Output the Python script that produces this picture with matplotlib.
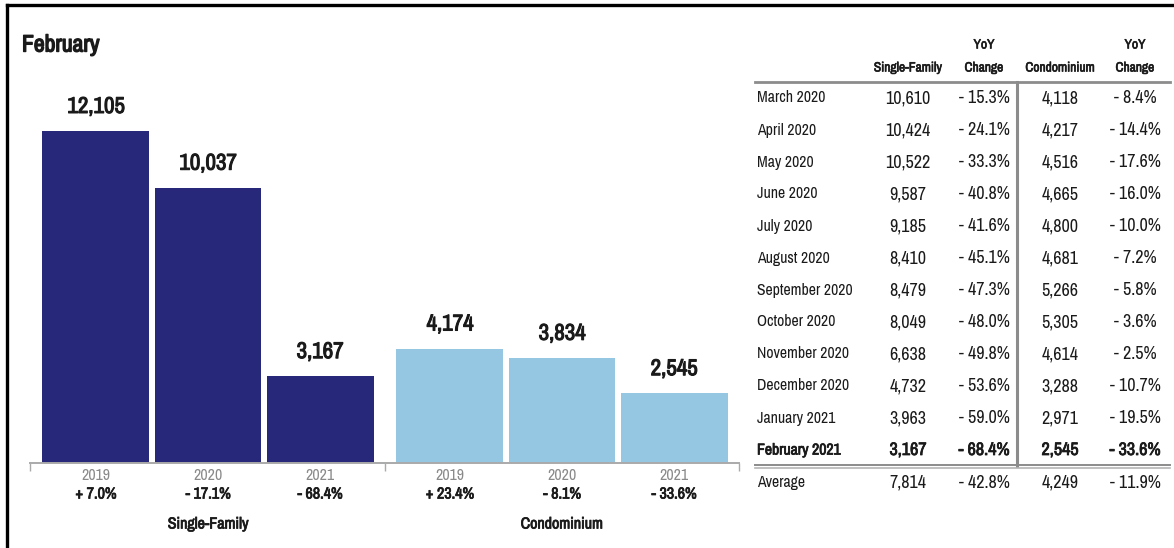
import matplotlib
matplotlib.use("Agg")
import matplotlib.pyplot as plt
import matplotlib.patheffects as pe
from matplotlib import font_manager

# ---------------- DATA ----------------------------------------
groups = ["Single-Family", "Condominium"]
years = ["2019", "2020", "2021"]
sf_sales = [12105, 10037, 3167]
condo_sales = [4174, 3834, 2545]
sf_yoy = ["+ 7.0%", "- 17.1%", "- 68.4%"]
condo_yoy = ["+ 23.4%", "- 8.1%", "- 33.6%"]

months = ["March 2020", "April 2020", "May 2020", "June 2020", "July 2020",
          "August 2020", "September 2020", "October 2020", "November 2020",
          "December 2020", "January 2021", "February 2021"]
tab_sf = ["10,610", "10,424", "10,522", "9,587", "9,185", "8,410", "8,479",
          "8,049", "6,638", "4,732", "3,963", "3,167"]
tab_sf_yoy = ["- 15.3%", "- 24.1%", "- 33.3%", "- 40.8%", "- 41.6%", "- 45.1%",
              "- 47.3%", "- 48.0%", "- 49.8%", "- 53.6%", "- 59.0%", "- 68.4%"]
tab_condo = ["4,118", "4,217", "4,516", "4,665", "4,800", "4,681", "5,266",
             "5,305", "4,614", "3,288", "2,971", "2,545"]
tab_condo_yoy = ["- 8.4%", "- 14.4%", "- 17.6%", "- 16.0%", "- 10.0%", "- 7.2%",
                 "- 5.8%", "- 3.6%", "- 2.5%", "- 10.7%", "- 19.5%", "- 33.6%"]
avg_row = ["Average", "7,814", "- 42.8%", "4,249", "- 11.9%"]

# ---------------- FONT PICK -----------------------------------
names = {f.name for f in font_manager.fontManager.ttflist}
FAKE_BOLD = False
if "Archivo Narrow" in names:
    FONT = dict(family="Archivo Narrow")
    FAKE_BOLD = True          # only a regular face is installed
elif "Asap Condensed" in names:
    FONT = dict(family="Asap Condensed")
else:
    FONT = dict(family="DejaVu Sans", stretch="condensed")

NAVY = "#27287a"
LIGHT = "#95c6e2"
GRID = "#8c8c8c"
TXT = "#1a1a1a"


def bold(stroke):
    # real bold, or a thin same-colour stroke round the regular face
    if FAKE_BOLD:
        return dict(path_effects=[pe.withStroke(linewidth=stroke, foreground=TXT)])
    return dict(weight="bold")


W, H = 1174, 548
fig = plt.figure(figsize=(W / 100, H / 100), dpi=100)

# ---------------- BARS ----------------------------------------
px = 0.72  # points per pixel at dpi 100
ax = fig.add_axes([30 / W, (H - 463) / H, (739 - 30) / W, 384 / H])
group_step = 3.16
colours = [NAVY, LIGHT]
all_vals = [sf_sales, condo_sales]
all_yoy = [sf_yoy, condo_yoy]

for g, (vals, yoy) in enumerate(zip(all_vals, all_yoy)):
    xs = [g * group_step + i for i in range(len(vals))]
    ax.bar(xs, vals, width=0.955, color=colours[g], edgecolor="none")
    for x, v, yr, ch in zip(xs, vals, years, yoy):
        ax.annotate(f"{v:,}", (x, v), xytext=(0, 24 * px), textcoords="offset points",
                    ha="center", va="center", fontsize=16.5, color=TXT, **FONT, **bold(0.75))
        ax.annotate(yr, (x, 0), xytext=(0, -13 * px), textcoords="offset points",
                    ha="center", va="center", fontsize=11.5, color="#8a8a8a", **FONT)
        ax.annotate(ch, (x, 0), xytext=(0, -31 * px), textcoords="offset points",
                    ha="center", va="center", fontsize=11.5, color=TXT, **FONT, **bold(0.55))
    ax.annotate(groups[g], (g * group_step + 1, 0), xytext=(0, -61 * px),
                textcoords="offset points", ha="center", va="center",
                fontsize=11.5, color=TXT, **FONT, **bold(0.55))

left_edge = -0.589
right_edge = 5.74
ax.set_xlim(left_edge, right_edge)
ax.set_ylim(0, 14000)
for s in ["top", "left", "right"]:
    ax.spines[s].set_visible(False)
ax.spines["bottom"].set_color("#aaaaaa")
ax.spines["bottom"].set_linewidth(1.4)
ax.set_xticks([left_edge, (group_step + 2) / 2, right_edge])
ax.set_xticklabels([])
ax.tick_params(axis="x", length=8 * px, width=1.0, color="#aaaaaa", direction="out")
ax.set_yticks([])
ax.patch.set_alpha(0)

# ---------------- OVERLAY (title, table, frame) ---------------
ov = fig.add_axes([0, 0, 1, 1], zorder=-1)
ov.set_xlim(0, W)
ov.set_ylim(H, 0)
ov.axis("off")

# frame
ov.plot([7, W], [5, 5], color="black", lw=2.4, solid_capstyle="projecting")
ov.plot([7, 7], [5, H], color="black", lw=2.4, solid_capstyle="projecting")

ov.text(22, 45, "February", ha="left", va="center", fontsize=17, color=TXT,
        **FONT, **bold(1.0))

# table
col_x = [908, 984, 1060, 1135]
hdr_top = ["", "YoY", "", "YoY"]
hdr_bot = ["Single-Family", "Change", "Condominium", "Change"]
for cx, t, b in zip(col_x, hdr_top, hdr_bot):
    ov.text(cx, 45, t, ha="center", va="center", fontsize=9.7, color=TXT, **FONT, **bold(0.45))
    ov.text(cx, 68, b, ha="center", va="center", fontsize=9.7, color=TXT, **FONT, **bold(0.45))

row0, row_h = 98, 32.0
for i, m in enumerate(months):
    y = row0 + i * row_h
    last = i == len(months) - 1
    bkw = bold(0.55) if last else {}
    ov.text(757, y, m, ha="left", va="center", fontsize=11.3, color=TXT, **FONT, **bkw)
    for cx, val in zip(col_x, [tab_sf[i], tab_sf_yoy[i], tab_condo[i], tab_condo_yoy[i]]):
        ov.text(cx, y, val, ha="center", va="center", fontsize=13, color=TXT, **FONT, **bkw)

avg_y = row0 + len(months) * row_h + 1
ov.text(757, avg_y, avg_row[0], ha="left", va="center", fontsize=11.3, color=TXT, **FONT)
for cx, val in zip(col_x, avg_row[1:]):
    ov.text(cx, avg_y, val, ha="center", va="center", fontsize=13, color=TXT, **FONT)

ov.plot([755, 1170], [82, 82], color=GRID, lw=2.0)
ov.plot([1017, 1017], [82, 466], color=GRID, lw=2.2)
ov.plot([755, 1170], [465, 465], color=GRID, lw=1.4)
ov.plot([755, 1170], [467.5, 467.5], color="#b5b5b5", lw=1.2)

fig.savefig("out.png", dpi=100)
